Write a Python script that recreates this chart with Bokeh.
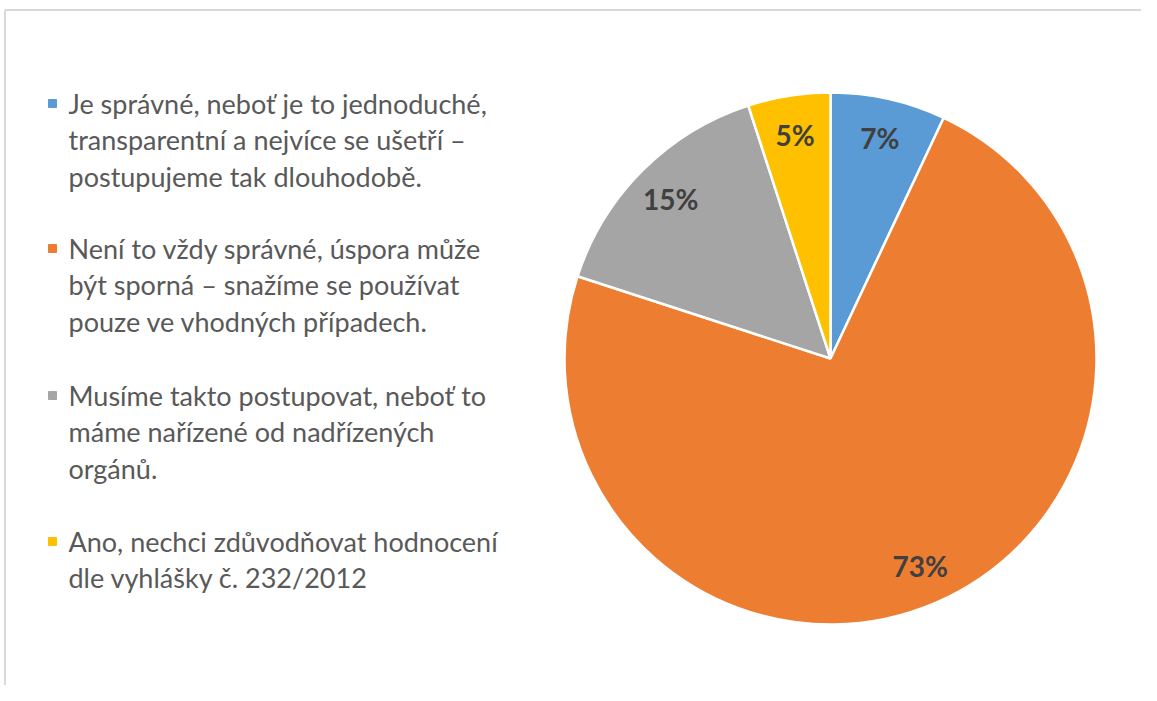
import math
from bokeh.plotting import figure
from bokeh.models import Range1d, ColumnDataSource
from bokeh.core.properties import value
from bokeh.embed import file_html
from bokeh.resources import INLINE

# ---- data ----
categories = [
    ["Je správné, neboť je to jednoduché,", "transparentní a nejvíce se ušetří –", "postupujeme tak dlouhodobě."],
    ["Není to vždy správné, úspora může", "být sporná – snažíme se používat", "pouze ve vhodných případech."],
    ["Musíme takto postupovat, neboť to", "máme nařízené od nadřízených", "orgánů."],
    ["Ano, nechci zdůvodňovat hodnocení", "dle vyhlášky č. 232/2012"],
]
shares = [7, 73, 15, 5]
pct_labels = ["7%", "73%", "15%", "5%"]
colors = ["#5B9BD5", "#ED7D31", "#A5A5A5", "#FFC000"]

W, H = 1141, 685
p = figure(width=W, height=H, x_range=Range1d(0, W), y_range=Range1d(0, H),
           output_backend="svg", toolbar_location=None, min_border=0)
p.axis.visible = False
p.grid.visible = False
p.outline_line_color = None
p.background_fill_color = "white"
p.border_fill_color = "white"

# thin frame (top and left only, as in reference)
p.line(x=[4.5, W], y=[H - 9.5, H - 9.5], line_color="#d9d9d9", line_width=2)
p.line(x=[4.5, 4.5], y=[H - 9.5, 0], line_color="#d9d9d9", line_width=2)

# pie
cx, cy, R = 830, H - 358, 266
total = sum(shares)
starts, ends, lx, ly = [], [], [], []
cum = 0
for s in shares:
    a0 = math.pi / 2 - 2 * math.pi * cum / total
    cum += s
    a1 = math.pi / 2 - 2 * math.pi * cum / total
    starts.append(a0)
    ends.append(a1)
    mid = (a0 + a1) / 2
    lx.append(cx + 0.85 * R * math.cos(mid))
    ly.append(cy + 0.85 * R * math.sin(mid))

src = ColumnDataSource(dict(start=starts, end=ends, color=colors))
p.wedge(x=cx, y=cy, radius=R, radius_units="screen", start_angle="start", end_angle="end",
        direction="clock", fill_color="color", line_color="white", line_width=2.5, source=src)

p.text(x=lx, y=ly, text=pct_labels, text_align="center", text_baseline="middle",
       text_font=value("Lato"), text_font_style="bold", text_font_size="28px",
       text_color="#404040")

# legend
entry_top = [H - 103, H - 248, H - 395, H - 541]
line_gap = 36.3
tx, ty, tt = [], [], []
for i, lines in enumerate(categories):
    for j, ln in enumerate(lines):
        tx.append(68)
        ty.append(entry_top[i] - j * line_gap)
        tt.append(ln)
p.scatter(x=[52] * 4, y=entry_top, marker="square", size=8, color=colors)
p.text(x=tx, y=ty, text=tt, text_align="left", text_baseline="middle",
       text_font=value("Lato"), text_font_size="27px", text_color="#595959")

open("out.html", "w").write(file_html(p, INLINE))
